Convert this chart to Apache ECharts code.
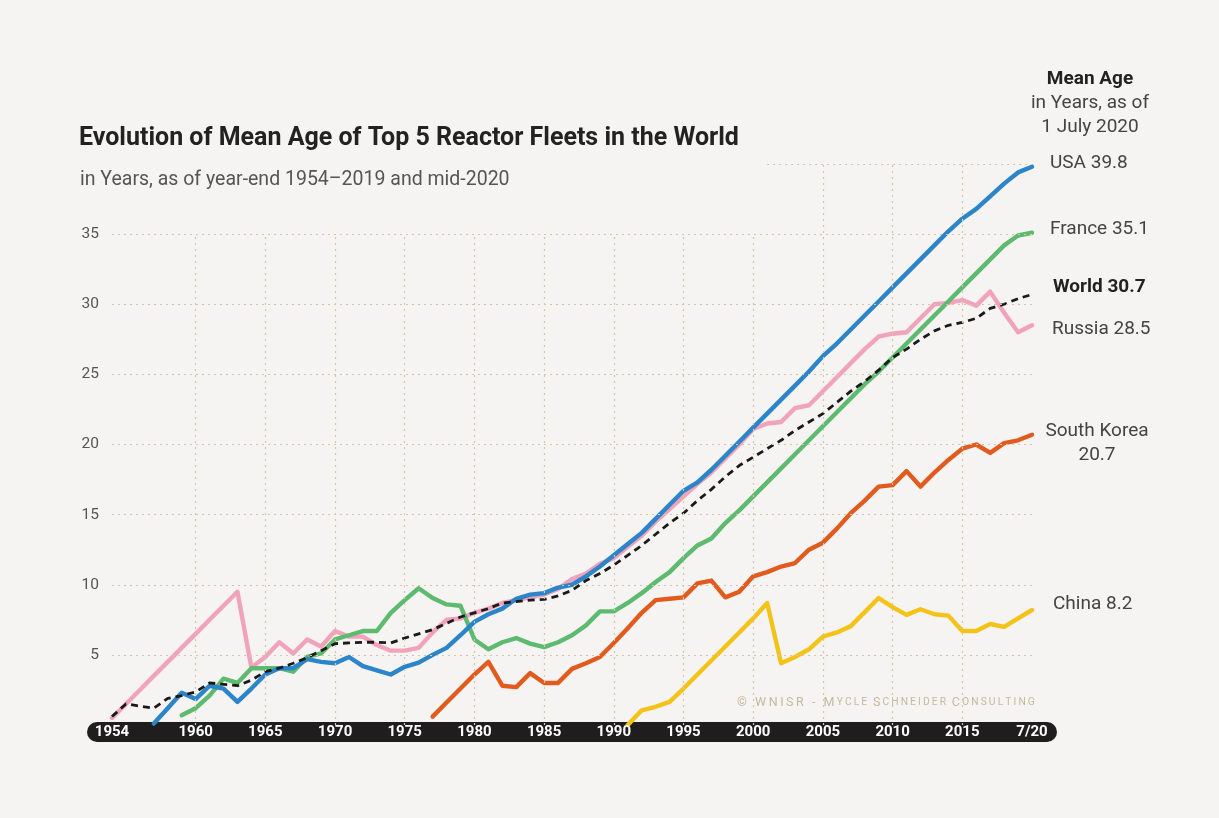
<!DOCTYPE html>
<html>
<head>
<meta charset="utf-8">
<script src="https://cdn.jsdelivr.net/npm/echarts@6/dist/echarts.min.js"></script>
<style>
html,body{margin:0;padding:0;background:#f6f4f2;}
#chart{width:1219px;height:818px;}
</style>
</head>
<body>
<div id="chart"></div>
<script>
// ---------- DATA ----------
const firstYear = 1954;
const lastYear = 2019;
const categories = [];
for (let y = firstYear; y <= lastYear; y++) categories.push(String(y));
categories.push('7/20');

const usaStart = 1957;
const usa = [0.1, 1.2, 2.3, 1.85, 2.8, 2.6, 1.65, 2.6, 3.6, 4.05, 4.05, 4.7, 4.5, 4.4, 4.85, 4.2, 3.9, 3.6, 4.15, 4.45,
  5.0, 5.5, 6.4, 7.35, 7.9, 8.3, 9.0, 9.3, 9.4, 9.8, 10.0, 10.6, 11.3, 12.1, 12.9, 13.7, 14.7, 15.7, 16.7, 17.3,
  18.2, 19.2, 20.2, 21.2, 22.2, 23.2, 24.2, 25.2, 26.3, 27.2, 28.2, 29.2, 30.2, 31.2, 32.2, 33.2, 34.2, 35.2, 36.1, 36.8,
  37.7, 38.6, 39.4, 39.8];

const franceStart = 1959;
const france = [0.7, 1.2, 2.1, 3.3, 3.0, 4.05, 4.05, 4.05, 3.8, 4.85, 5.1, 6.1, 6.4, 6.7, 6.7, 8.0, 8.9, 9.75, 9.05, 8.6,
  8.5, 6.1, 5.4, 5.9, 6.2, 5.8, 5.55, 5.9, 6.4, 7.1, 8.1, 8.1, 8.7, 9.4, 10.2, 10.9, 11.9, 12.8, 13.3, 14.4,
  15.3, 16.3, 17.3, 18.3, 19.3, 20.3, 21.3, 22.3, 23.3, 24.3, 25.2, 26.2, 27.2, 28.2, 29.2, 30.2, 31.2, 32.2, 33.2, 34.2,
  34.9, 35.1];

const russiaStart = 1954;
const russia = [0.5, 1.5, 2.5, 3.5, 4.5, 5.5, 6.5, 7.5, 8.5, 9.5, 4.1, 4.85, 5.9, 5.1, 6.1, 5.6, 6.7, 6.3, 6.3, 5.7,
  5.3, 5.3, 5.5, 6.6, 7.5, 7.6, 8.0, 8.3, 8.7, 8.9, 9.1, 9.3, 9.7, 10.4, 10.8, 11.5, 11.9, 12.7, 13.5, 14.5,
  15.4, 16.3, 17.2, 18.0, 19.0, 20.0, 21.1, 21.5, 21.6, 22.6, 22.8, 23.8, 24.8, 25.8, 26.8, 27.7, 27.9, 28.0, 29.0, 30.0,
  30.1, 30.3, 29.9, 30.9, 29.4, 28.0, 28.5];

const worldStart = 1954;
const world = [0.6, 1.5, 1.35, 1.2, 1.9, 2.1, 2.35, 3.0, 2.9, 2.8, 3.2, 3.8, 4.05, 4.4, 4.8, 5.3, 5.8, 5.85, 5.9, 5.9,
  5.85, 6.2, 6.5, 6.8, 7.25, 7.7, 8.0, 8.3, 8.7, 8.8, 8.9, 8.95, 9.2, 9.6, 10.3, 10.8, 11.4, 12.1, 12.8, 13.6,
  14.4, 15.1, 16.0, 16.8, 17.7, 18.5, 19.1, 19.7, 20.3, 21.0, 21.6, 22.2, 23.0, 23.8, 24.5, 25.3, 26.2, 26.8, 27.5, 28.1,
  28.5, 28.7, 29.0, 29.7, 30.0, 30.4, 30.7];

const koreaStart = 1977;
const korea = [0.6, 1.6, 2.6, 3.6, 4.5, 2.8, 2.7, 3.7, 3.0, 3.0, 4.0, 4.4, 4.85, 5.85, 6.9, 8.0, 8.9, 9.0, 9.1, 10.1,
  10.3, 9.1, 9.5, 10.6, 10.9, 11.3, 11.55, 12.5, 13.0, 14.0, 15.1, 16.0, 17.0, 17.1, 18.1, 17.0, 18.0, 18.9, 19.7, 20.0,
  19.4, 20.1, 20.3, 20.7];

const chinaStart = 1991;
const china = [0.0, 1.05, 1.3, 1.65, 2.6, 3.6, 4.6, 5.6, 6.6, 7.6, 8.7, 4.4, 4.85, 5.4, 6.3, 6.6, 7.05, 8.05, 9.05, 8.4,
  7.85, 8.25, 7.9, 7.8, 6.7, 6.7, 7.2, 7.0, 7.6, 8.2];

const yTicks = [5, 10, 15, 20, 25, 30, 35];
const xLabelYears = ['1954', '1960', '1965', '1970', '1975', '1980', '1985', '1990', '1995', '2000', '2005', '2010', '2015', '7/20'];

// ---------- BUILD ----------
function pad(start, vals) {
  const out = [];
  for (let i = 0; i < start - firstYear; i++) out.push(null);
  return out.concat(vals);
}
const last = a => a[a.length - 1].toFixed(1);
const sp = s => s.split('').join('\u2009');

const gridColor = '#d5c6a8';
const gridStyle = { color: gridColor, width: 1.2, type: [2, 4] };
const gridLines = [];
for (let y = 1960; y <= 2015; y += 5) {
  gridLines.push([{ coord: [String(y), 0] }, { coord: [String(y), y >= 2005 ? 40 : 35] }]);
}
yTicks.forEach(v => gridLines.push([{ coord: ['1954', v] }, { coord: ['7/20', v] }]));
gridLines.push([{ coord: ['2001', 40] }, { coord: ['7/20', 40] }]);

function lineSeries(name, data, color, extra) {
  return Object.assign({
    name, type: 'line', data, symbol: 'none', smooth: false, connectNulls: false,
    lineStyle: { color, width: 4.4, cap: 'round', join: 'round' },
    itemStyle: { color },
    clip: false, silent: true, animation: false
  }, extra || {});
}

const chart = echarts.init(document.getElementById('chart'), null, { renderer: 'canvas' });
const font = 'Roboto, "Noto Sans", sans-serif';
const lblFont = '19px ' + font;
const copyColor = '#c8b89b';

const option = {
  backgroundColor: '#f6f4f2',
  animation: false,
  grid: { left: 112, right: 187, top: 164, bottom: 93, containLabel: false },
  xAxis: {
    type: 'category', data: categories, boundaryGap: false, z: 10,
    axisLine: { show: false }, axisTick: { show: false }, splitLine: { show: false },
    axisLabel: {
      interval: (i, v) => xLabelYears.indexOf(v) >= 0,
      color: '#ffffff', fontFamily: font, fontWeight: 'bold', fontSize: 15, margin: 0
    }
  },
  yAxis: {
    type: 'value', min: 0, max: 40, interval: 5,
    axisLine: { show: false }, axisTick: { show: false }, splitLine: { show: false },
    axisLabel: {
      formatter: v => (yTicks.indexOf(v) >= 0 ? String(v) : ''),
      color: '#555', fontFamily: font, fontSize: 15.5, margin: 13
    }
  },
  graphic: [
    { type: 'rect', z: -1, shape: { x: 87, y: 722, width: 970, height: 20, r: 10 }, style: { fill: '#1f1d1d' } },
    { type: 'text', left: 79, top: 126, style: { text: 'Evolution of Mean Age of Top 5 Reactor Fleets in the World', font: 'bold 25px ' + font, fill: '#222' } },
    { type: 'text', left: 80, top: 170, style: { text: 'in Years, as of year-end 1954\u20132019 and mid-2020', font: '19.5px ' + font, fill: '#555' } },
    { type: 'text', x: 1090, y: 70, style: { text: 'Mean Age', font: 'bold 19px ' + font, fill: '#222', align: 'center' } },
    { type: 'text', x: 1090, y: 94, style: { text: 'in Years, as of', font: lblFont, fill: '#444', align: 'center' } },
    { type: 'text', x: 1090, y: 118, style: { text: '1 July 2020', font: lblFont, fill: '#444', align: 'center' } },
    { type: 'text', x: 1050, y: 154, style: { text: 'USA ' + last(usa), font: lblFont, fill: '#444' } },
    { type: 'text', x: 1050, y: 220, style: { text: 'France ' + last(france), font: lblFont, fill: '#444' } },
    { type: 'text', x: 1053, y: 278, style: { text: 'World ' + last(world), font: 'bold 19px ' + font, fill: '#222' } },
    { type: 'text', x: 1052, y: 320, style: { text: 'Russia ' + last(russia), font: lblFont, fill: '#444' } },
    { type: 'text', x: 1097, y: 422, style: { text: 'South Korea', font: lblFont, fill: '#444', align: 'center' } },
    { type: 'text', x: 1097, y: 446, style: { text: last(korea), font: lblFont, fill: '#444', align: 'center' } },
    { type: 'text', x: 1053, y: 595, style: { text: 'China ' + last(china), font: lblFont, fill: '#444' } },
    { type: 'text', x: 737, y: 696, style: {
      text: '{a|' + sp('\u00A9 WNISR - M') + '}{b|\u2009' + sp('YCLE') + '}{a|\u2009 ' + sp('S') + '}{b|\u2009' + sp('CHNEIDER') + '}{a|\u2009 ' + sp('C') + '}{b|\u2009' + sp('ONSULTING') + '}',
      rich: {
        a: { fontFamily: font, fontSize: 12.5, fill: copyColor, color: copyColor },
        b: { fontFamily: font, fontSize: 10.3, fill: copyColor, color: copyColor }
      }
    } }
  ],
  series: [
    { type: 'line', data: categories.map(() => null), silent: true, z: 0,
      markLine: { silent: true, symbol: ['none', 'none'], label: { show: false }, animation: false,
        lineStyle: gridStyle, emphasis: { disabled: true }, data: gridLines } },
    lineSeries('Russia', pad(russiaStart, russia), '#f0a3bb'),
    lineSeries('France', pad(franceStart, france), '#5dba6e'),
    lineSeries('USA', pad(usaStart, usa), '#2b85c8'),
    lineSeries('South Korea', pad(koreaStart, korea), '#e15b1f'),
    lineSeries('China', pad(chinaStart, china), '#f4c31a'),
    lineSeries('World', pad(worldStart, world), '#1a1a1a', {
      lineStyle: { color: '#1a1a1a', width: 2.8, type: [7, 5], cap: 'butt', join: 'round' }
    })
  ]
};
chart.setOption(option);
</script>
</body>
</html>
